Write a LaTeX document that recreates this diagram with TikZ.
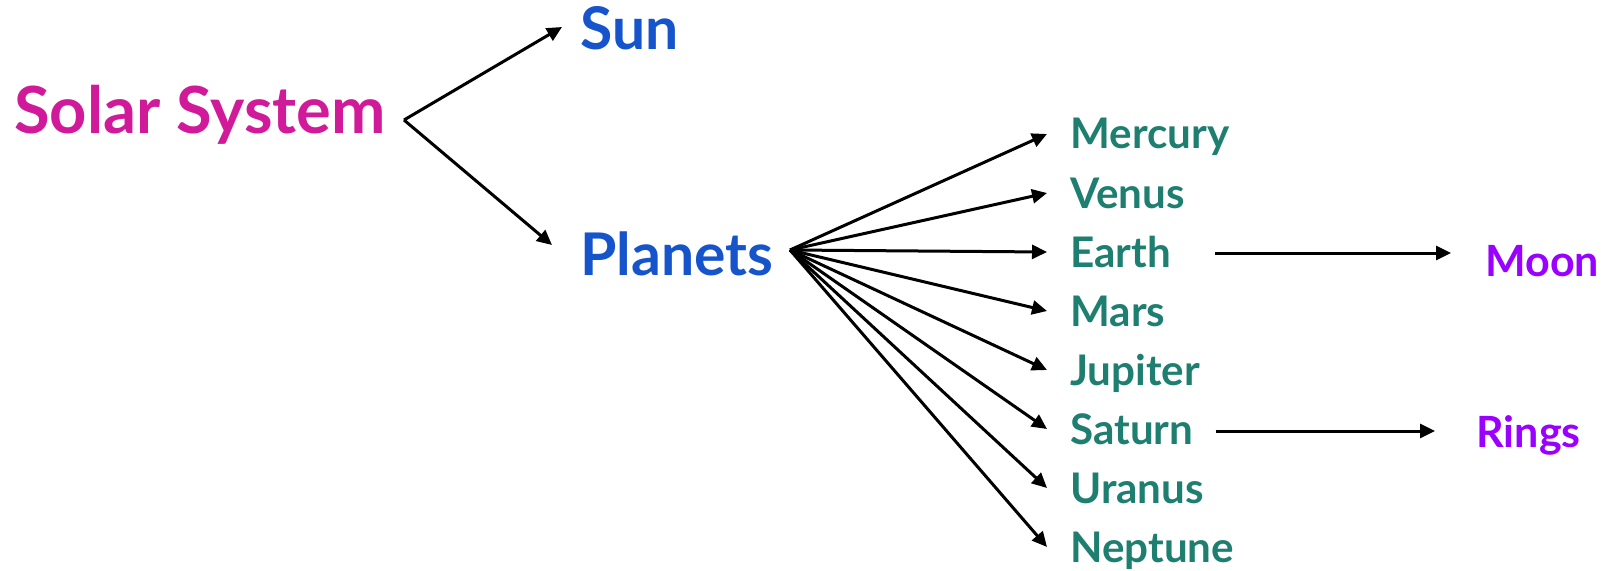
\documentclass[tikz,border=0pt]{standalone}
\usepackage{fontspec}
\setmainfont{Lato}
\usetikzlibrary{arrows.meta, positioning, calc}
\definecolor{solarpink}{RGB}{208,26,154}
\definecolor{topblue}{RGB}{22,84,204}
\definecolor{planetteal}{RGB}{30,127,112}
\definecolor{moonpurple}{RGB}{153,0,255}

\begin{document}
\begin{tikzpicture}[
    x=0.02cm, y=-0.02cm,
    big/.style={font=\bfseries\fontsize{33.5}{36}\selectfont, inner sep=0, text height=0.84cm, text depth=0pt, anchor=base west},
    planet/.style={font=\bfseries\fontsize{24}{27}\selectfont, text=planetteal, inner sep=0, text height=0.6cm, text depth=0pt, anchor=base west},
    extra/.style={font=\bfseries\fontsize{24.5}{27}\selectfont, text=moonpurple, inner sep=0, text height=0.6cm, text depth=0pt, anchor=base west},
    arrow/.style={-{Triangle[length=0.3cm, width=0.28cm]}, line width=0.06cm},
]
\useasboundingbox (0,0) rectangle (1602,571);

% Top level
\node[big, text=solarpink, font=\bfseries\fontsize{37}{40}\selectfont] (solar) at (14,133) {Solar System};
\node[big, text=topblue] (sun) at (580,50) {Sun};
\node[big, text=topblue] (planets) at (580,275) {Planets};
\coordinate (solarhub) at (404,120);
\coordinate (planethub) at (790,250);
\draw[arrow] (solarhub) -- ([shift={(-18,-2)}]sun.west);
\draw[arrow] (solarhub) -- ([shift={(-28,-9)}]planets.west);

% Planets
\foreach \name/\lbl/\y in {mercury/Mercury/149, venus/Venus/208, earth/Earth/267, mars/Mars/326,
    jupiter/Jupiter/385, saturn/Saturn/444, uranus/Uranus/503, neptune/Neptune/562} {
  \node[planet] (\name) at (1070,\y) {\lbl};
  \draw[arrow] (planethub) -- ([xshift=-0.46cm]\name.west);
}

% Moon and rings
\node[extra] (moon) at (1485,276) {Moon};
\node[extra] (rings) at (1476,447) {Rings};
\draw[arrow] ([shift={(44,1)}]earth.east) -- ([shift={(-34,-8)}]moon.west);
\draw[arrow] ([shift={(22,2)}]saturn.east) -- ([shift={(-41,-1)}]rings.west);

\end{tikzpicture}
\end{document}
